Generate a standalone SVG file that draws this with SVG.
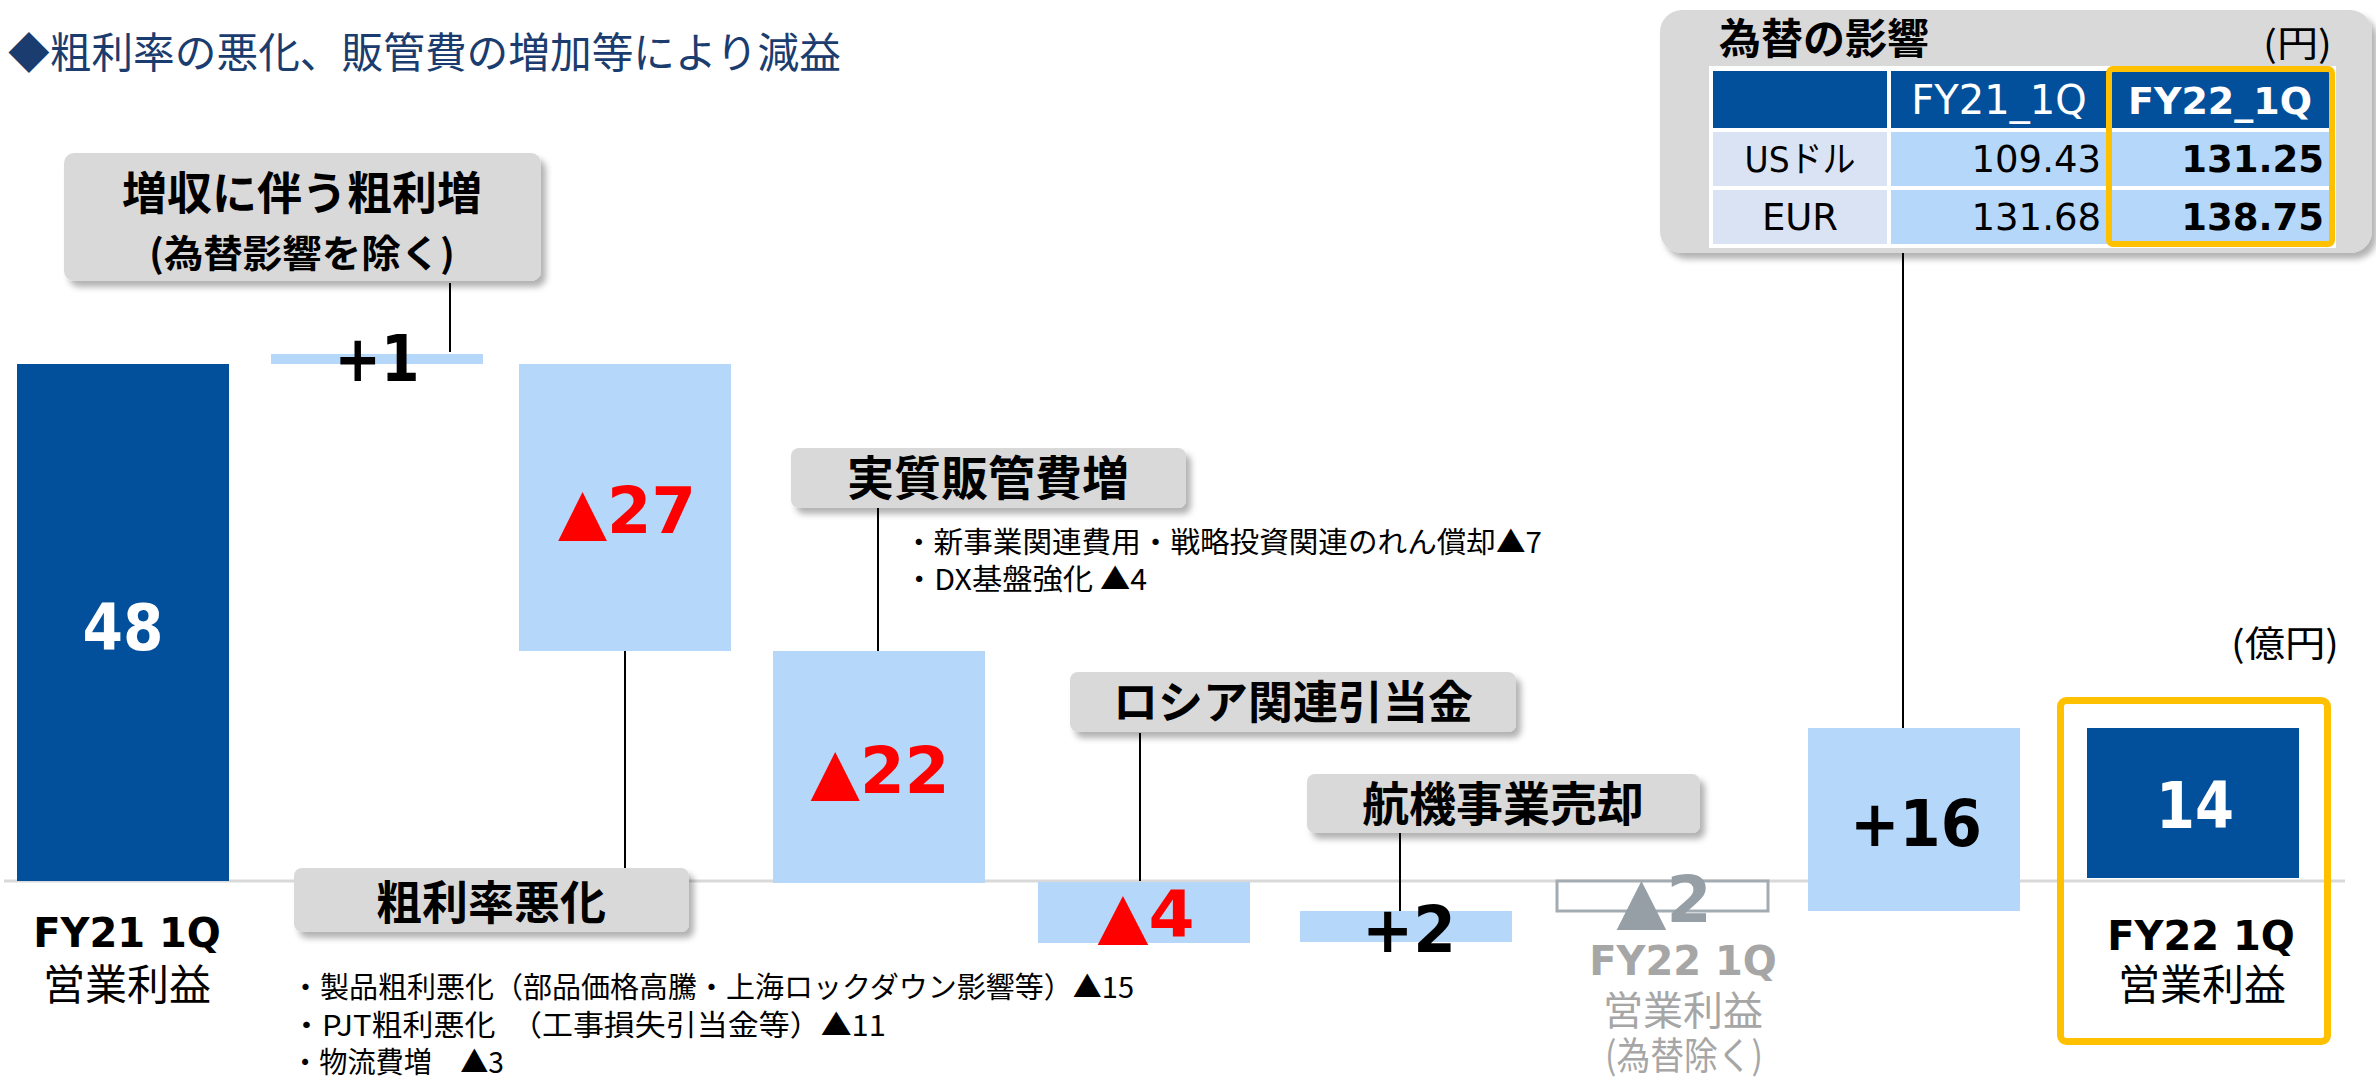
<svg xmlns="http://www.w3.org/2000/svg" width="2376" height="1078" viewBox="0 0 2376 1078">
<defs>
<filter id="sh" x="-5%" y="-10%" width="115%" height="140%">
<feDropShadow dx="5" dy="6" stdDeviation="3" flood-color="#000" flood-opacity="0.3"/>
</filter>
<style>
.jp{font-family:"Noto Sans CJK JP",sans-serif}
.jpb{font-family:"Noto Sans CJK JP",sans-serif;font-weight:700}
.num{font-family:"DejaVu Sans","Noto Sans CJK JP",sans-serif;font-weight:700}
.dv{font-family:"DejaVu Sans","Noto Sans CJK JP",sans-serif}
.lbl{fill:#d9d9d9;filter:url(#sh)}
.dark{fill:#02509b}
.light{fill:#b5d8fa}
.con{stroke:#000;stroke-width:2;fill:none}
.red{fill:#ff0000}
.mid{text-anchor:middle}
.end{text-anchor:end}
.gray{fill:#a6a6a6}
</style>
</defs>
<rect width="2376" height="1078" fill="#fff"/>

<text id="title" class="jp" x="8" y="68" font-size="42" fill="#1a3c6e" textLength="833" lengthAdjust="spacingAndGlyphs">◆粗利率の悪化、販管費の増加等により減益</text>

<line id="axis" x1="4" y1="881" x2="2345" y2="881" stroke="#d9d9d9" stroke-width="3"/>

<g id="connectors" class="con">
<path d="M450 283V352"/>
<path d="M625 651V868"/>
<path d="M878 508V651"/>
<path d="M1140 733V881"/>
<path d="M1400 833V911"/>
<path d="M1903 253V728"/>
</g>

<g id="bar-fy21">
<rect class="dark" x="17" y="364" width="212" height="517"/>
<text class="num mid" x="123" y="650" font-size="64" fill="#fff" textLength="81" lengthAdjust="spacingAndGlyphs">48</text>
<text class="num mid" x="127" y="947" font-size="40" fill="#000">FY21 1Q</text>
<text class="jp mid" x="127" y="1000" font-size="42" fill="#000">営業利益</text>
</g>

<g id="bar-plus1">
<rect class="light" x="271" y="354" width="212" height="10"/>
<text class="num mid" x="377" y="381" font-size="64" fill="#000" textLength="85" lengthAdjust="spacingAndGlyphs">+1</text>
</g>

<g id="bar-m27">
<rect class="light" x="519" y="364" width="212" height="287"/>
<text class="num mid red" x="627" y="533" font-size="64" textLength="138" lengthAdjust="spacingAndGlyphs">▲27</text>
</g>

<g id="bar-m22">
<rect class="light" x="773" y="651" width="212" height="232"/>
<text class="num mid red" x="880" y="793" font-size="64" textLength="139" lengthAdjust="spacingAndGlyphs">▲22</text>
</g>

<g id="bar-m4">
<rect class="light" x="1038" y="882" width="212" height="61"/>
<text class="num mid red" x="1146" y="937" font-size="64" textLength="97" lengthAdjust="spacingAndGlyphs">▲4</text>
</g>

<g id="bar-plus2">
<rect class="light" x="1300" y="911" width="212" height="31"/>
<text class="num mid" x="1409" y="952" font-size="64" fill="#000" textLength="94" lengthAdjust="spacingAndGlyphs">+2</text>
</g>

<g id="bar-fy22-excl">
<rect x="1557" y="881" width="211" height="30" fill="#fff" stroke="#a3acb2" stroke-width="3"/>
<text class="num mid" x="1664" y="922" font-size="64" fill="#959fa5" textLength="95" lengthAdjust="spacingAndGlyphs">▲2</text>
<text class="num mid gray" x="1683" y="975" font-size="40">FY22 1Q</text>
<text class="jp mid gray" x="1683" y="1025" font-size="40">営業利益</text>
<text class="jp mid gray" x="1684" y="1069" font-size="38" textLength="158" lengthAdjust="spacingAndGlyphs">(為替除く)</text>
</g>

<g id="bar-plus16">
<rect class="light" x="1808" y="728" width="212" height="183"/>
<text class="num mid" x="1916" y="846" font-size="64" fill="#000" textLength="132" lengthAdjust="spacingAndGlyphs">+16</text>
</g>

<g id="bar-fy22">
<rect x="2060.5" y="700.5" width="267" height="341" rx="6" fill="none" stroke="#ffc000" stroke-width="7"/>
<rect class="dark" x="2087" y="728" width="212" height="150"/>
<text class="num mid" x="2195" y="828" font-size="64" fill="#fff" textLength="78" lengthAdjust="spacingAndGlyphs">14</text>
<text class="num mid" x="2201" y="950" font-size="40" fill="#000">FY22 1Q</text>
<text class="jp mid" x="2202" y="1000" font-size="42" fill="#000">営業利益</text>
</g>

<text id="unit" class="jp" x="2231" y="657" font-size="36" fill="#000" textLength="108" lengthAdjust="spacingAndGlyphs">(億円)</text>

<g id="label-zoushu">
<rect class="lbl" x="64" y="153" width="477" height="128" rx="10"/>
<text class="jpb mid" x="302" y="210" font-size="45" fill="#000">増収に伴う粗利増</text>
<text class="jpb mid" x="302" y="267" font-size="38" fill="#000" textLength="306" lengthAdjust="spacingAndGlyphs">(為替影響を除く)</text>
</g>

<g id="label-arari">
<rect class="lbl" x="294" y="868" width="395" height="64" rx="8"/>
<text class="jpb mid" x="491" y="919" font-size="46" fill="#000">粗利率悪化</text>
</g>

<g id="note-arari" class="jp" font-size="29" fill="#000">
<text x="291" y="998" textLength="843" lengthAdjust="spacingAndGlyphs">・製品粗利悪化（部品価格高騰・上海ロックダウン影響等）▲15</text>
<text x="291" y="1036" textLength="595" lengthAdjust="spacingAndGlyphs">・PJT粗利悪化　（工事損失引当金等）▲11</text>
<text x="291" y="1073" textLength="213" lengthAdjust="spacingAndGlyphs">・物流費増　▲3</text>
</g>

<g id="label-hankan">
<rect class="lbl" x="791" y="448" width="395" height="60" rx="8"/>
<text class="jpb mid" x="988" y="495" font-size="47" fill="#000">実質販管費増</text>
</g>

<g id="note-hankan" class="jp" font-size="29" fill="#000">
<text x="904" y="553" textLength="638" lengthAdjust="spacingAndGlyphs">・新事業関連費用・戦略投資関連のれん償却▲7</text>
<text x="904" y="590" textLength="243" lengthAdjust="spacingAndGlyphs">・DX基盤強化 ▲4</text>
</g>

<g id="label-russia">
<rect class="lbl" x="1070" y="672" width="446" height="60" rx="8"/>
<text class="jpb mid" x="1293" y="719" font-size="45" fill="#000">ロシア関連引当金</text>
</g>

<g id="label-koki">
<rect class="lbl" x="1307" y="774" width="393" height="59" rx="8"/>
<text class="jpb mid" x="1503" y="821" font-size="47" fill="#000">航機事業売却</text>
</g>

<g id="fx-table">
<rect x="1660" y="10" width="712" height="243" rx="22" fill="#d9d9d9" filter="url(#sh)"/>
<text class="jpb" x="1719" y="54" font-size="42" fill="#000">為替の影響</text>
<text class="jp end" x="2332" y="57" font-size="36" fill="#000" textLength="69" lengthAdjust="spacingAndGlyphs">(円)</text>
<rect x="1709" y="66" width="627" height="182" fill="#fff"/>
<rect class="dark" x="1713" y="71" width="174" height="57"/>
<rect class="dark" x="1891" y="71" width="216" height="57"/>
<rect class="dark" x="2111" y="71" width="219" height="57"/>
<rect x="1713" y="132" width="174" height="54" fill="#dae3f3"/>
<rect class="light" x="1891" y="132" width="216" height="54"/>
<rect class="light" x="2111" y="132" width="219" height="54"/>
<rect x="1713" y="190" width="174" height="54" fill="#dae3f3"/>
<rect class="light" x="1891" y="190" width="216" height="54"/>
<rect class="light" x="2111" y="190" width="219" height="54"/>
<text class="dv mid" x="1999" y="114" font-size="40" fill="#fff">FY21_1Q</text>
<text class="num mid" x="2220" y="114" font-size="38" fill="#fff">FY22_1Q</text>
<text class="dv mid" x="1800" y="172" font-size="36" fill="#000" textLength="111" lengthAdjust="spacingAndGlyphs">USドル</text>
<text class="dv end" x="2101" y="172" font-size="37" fill="#000">109.43</text>
<text class="num end" x="2324" y="172" font-size="37" fill="#000">131.25</text>
<text class="dv mid" x="1800" y="230" font-size="37" fill="#000">EUR</text>
<text class="dv end" x="2101" y="230" font-size="37" fill="#000">131.68</text>
<text class="num end" x="2324" y="230" font-size="37" fill="#000">138.75</text>
<rect x="2109" y="69" width="223" height="175" rx="4" fill="none" stroke="#ffc000" stroke-width="6"/>
</g>
</svg>
